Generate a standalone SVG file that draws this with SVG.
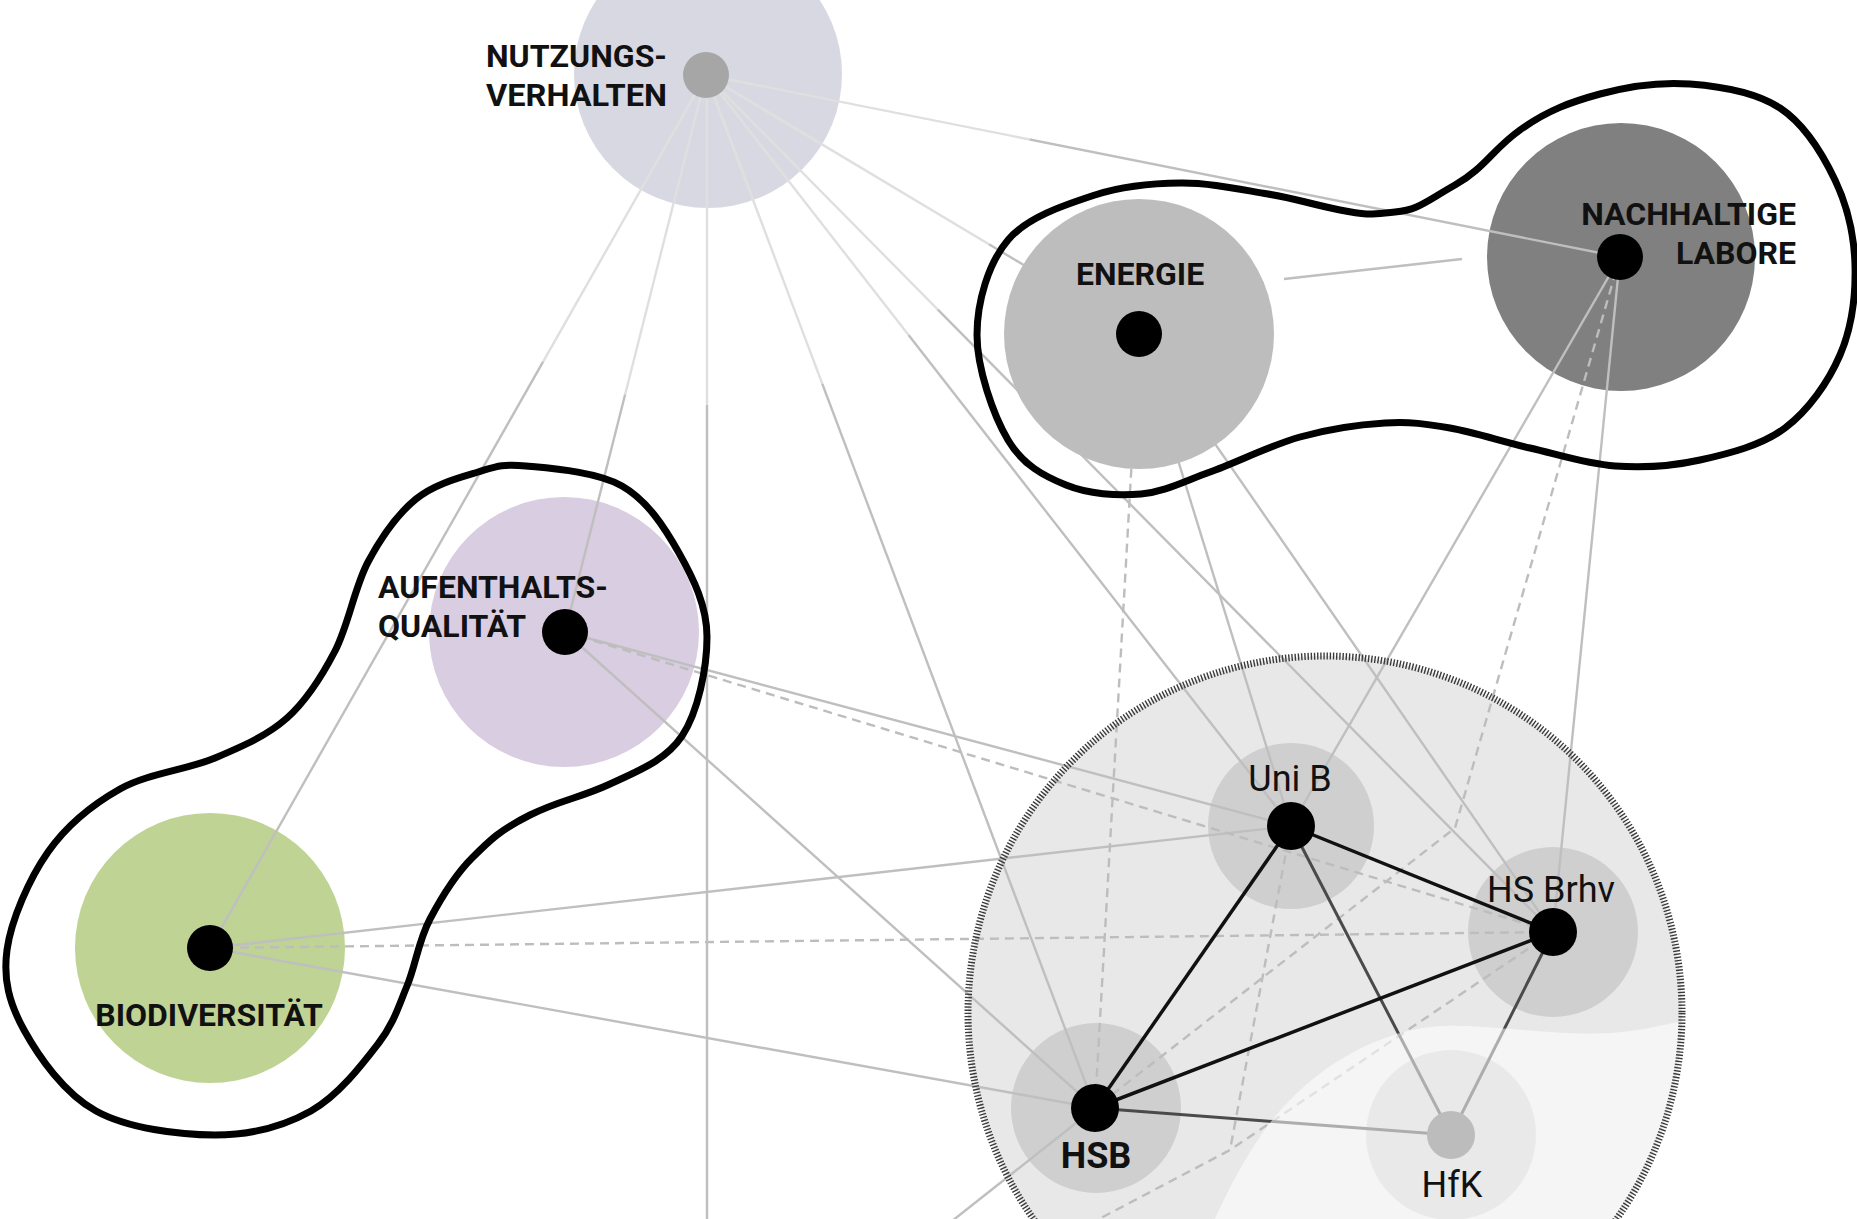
<svg xmlns="http://www.w3.org/2000/svg" width="1857" height="1219" viewBox="0 0 1857 1219">
<style>
.ln{stroke:#bfbfbf;stroke-width:2.4;fill:none}
.dl{stroke:#bdbdbd;stroke-width:2.4;stroke-dasharray:9 6;fill:none}
.bk{stroke:#111;stroke-width:3.5;fill:none}
.dk{stroke:#4a4a4a;stroke-width:3;fill:none}
.blob{fill:none;stroke:#000;stroke-width:7;stroke-linejoin:round}
.dot{fill:#000}
.halo{fill:#cfcfcf}
.lbl{font-family:Roboto,'Liberation Sans',sans-serif;font-weight:700;font-size:32px;fill:#111}
.ilbl{font-family:Roboto,'Liberation Sans',sans-serif;font-size:36px;fill:#111}
.ilbl.b{font-weight:700}
</style>
<defs>
<clipPath id="bigclip"><circle cx="1325" cy="1013" r="354"/></clipPath>
</defs>
<rect width="1857" height="1219" fill="#fff"/>

<g id="cluster">
<circle cx="1325" cy="1013" r="357" fill="#e8e8e8"/>
</g>

<g id="node-circles">
<circle id="c-nutzung" cx="708" cy="74" r="134" fill="#b1b1c5"/>
<circle id="c-labore" cx="1621" cy="257" r="134" fill="#808080"/>
<circle id="c-aufenthalt" cx="564" cy="632" r="135" fill="#d9cde1"/>
<circle id="c-bio" cx="210" cy="948" r="135" fill="#bfd394"/>
<circle id="h-unib" class="halo" cx="1291" cy="826" r="83"/>
<circle id="h-hsbrhv" class="halo" cx="1553" cy="932" r="85"/>
<circle id="h-hsb" class="halo" cx="1096" cy="1108" r="85"/>
<circle id="h-hfk" class="halo" cx="1451" cy="1135" r="85"/>
</g>

<g id="connectors">
<line class="ln" x1="706" y1="75" x2="210" y2="948"/>
<line class="ln" x1="706" y1="75" x2="565" y2="632"/>
<line class="ln" x1="707" y1="75" x2="707" y2="1219"/>
<line class="ln" x1="706" y1="75" x2="1095" y2="1108"/>
<line class="ln" x1="706" y1="75" x2="1291" y2="826"/>
<line class="ln" x1="706" y1="75" x2="1553" y2="932"/>
<line class="ln" x1="706" y1="75" x2="1139" y2="334"/>
<line class="ln" x1="706" y1="75" x2="1620" y2="257"/>
<line class="ln" x1="565" y1="632" x2="1291" y2="826"/>
<line class="ln" x1="565" y1="632" x2="1095" y2="1108"/>
<line class="ln" x1="210" y1="948" x2="1291" y2="826"/>
<line class="ln" x1="210" y1="948" x2="1095" y2="1108"/>
<line class="ln" x1="1139" y1="334" x2="1291" y2="826"/>
<line class="ln" x1="1139" y1="334" x2="1553" y2="932"/>
<line class="ln" x1="1620" y1="257" x2="1291" y2="826"/>
<line class="ln" x1="1620" y1="257" x2="1553" y2="932"/>
<line class="ln" x1="1284" y1="279" x2="1462" y2="259"/>
<line class="ln" x1="1095" y1="1108" x2="928" y2="1240"/>
<line class="dl" x1="565" y1="632" x2="1553" y2="932"/>
<line class="dl" x1="210" y1="948" x2="1553" y2="932"/>
<line class="dl" x1="1139" y1="334" x2="1095" y2="1108"/>
<polyline class="dl" points="1620,257 1455,828 1095,1108"/>
<line class="dl" x1="1291" y1="826" x2="1230" y2="1150"/>
<polyline class="dl" points="1553,932 1230,1150 1080,1229"/>
<line class="dk" x1="1291" y1="826" x2="1451" y2="1135"/>
<line class="dk" x1="1553" y1="932" x2="1451" y2="1135"/>
<line class="dk" x1="1095" y1="1108" x2="1451" y2="1135"/>
<line class="bk" x1="1291" y1="826" x2="1095" y2="1108"/>
<line class="bk" x1="1291" y1="826" x2="1553" y2="932"/>
<line class="bk" x1="1095" y1="1108" x2="1553" y2="932"/>
</g>

<g id="overlays">
<circle cx="706" cy="75" r="330" fill="#fff" fill-opacity="0.5"/>
<path clip-path="url(#bigclip)" fill="#fff" fill-opacity="0.55" d="M 1205 1240 C 1230 1185 1255 1135 1290 1100 S 1360 1045 1400 1033 S 1470 1026 1550 1032 S 1650 1026 1700 1018 L 1700 1240 Z"/>
<circle cx="1325" cy="1013" r="357" fill="none" stroke="#3a3a3a" stroke-width="7" stroke-dasharray="1.4 1.8"/>
</g>

<g id="energie">
<circle cx="1139" cy="334" r="135" fill="#bdbdbd"/>
<circle class="dot" cx="1139" cy="334" r="23"/>
<text class="lbl" x="1140" y="285" text-anchor="middle">ENERGIE</text>
</g>

<g id="blobs">
<path class="blob" d="M 977 335 C 977 301.7 988.3 263.3 1008 240 S 1066.2 204.5 1095 195 S 1152.2 183.2 1181 183 S 1239 189.2 1268 194 S 1310 204 1340 210 S 1372 214 1395 212 S 1425 202 1455 185 S 1492 150 1520 130 S 1571.7 101.7 1600 94 S 1660 81.7 1690 84 S 1755.8 92 1780 108 S 1822.5 153.8 1835 180 S 1854.2 235.8 1855 265 S 1851.7 327.8 1840 355 S 1808.3 410.5 1785 428 S 1728.3 453.7 1700 460 S 1643.3 468 1615 466 S 1557.5 454.3 1530 448 S 1474.2 432.2 1450 428 S 1410 421.5 1385 423 S 1329.2 428.8 1300 437 S 1236.5 462.5 1210 472 S 1165 491.8 1141 494 S 1088.2 494 1066 485 S 1022.8 465 1008 440 S 977 368.3 977 335 Z"/>
<path class="blob" d="M 526 466 C 550 468.3 596.5 471.5 622 486 S 664.8 527.8 679 553 S 707 605.8 707 637 S 698 712 682 736 S 640 770 610 784 S 560 800 530 815 S 490 840 472 858 S 441.8 896.7 430 919 S 415.7 965.2 407 986 S 394 1023.2 378 1044 S 338.2 1095.8 311 1111 S 250.8 1135 215 1135 S 127.8 1128.5 96 1111 S 38.8 1056.8 24 1030 S 3 979.7 7 950 S 29.2 878.8 48 852 S 92.2 804.7 120 789 S 187.2 769.8 215 758 S 267 735.8 287 718 S 321.5 677 335 651 S 354.5 587.3 368 562 S 397.7 514 416 499 S 459.7 477.5 478 472 S 502 463.7 526 466 Z"/>
</g>

<g id="nutzungsverhalten">
<circle cx="706" cy="75" r="23" fill="#a6a6a6"/>
<text class="lbl" x="486" y="67" textLength="181" lengthAdjust="spacingAndGlyphs">NUTZUNGS-</text>
<text class="lbl" x="486" y="106" textLength="181" lengthAdjust="spacingAndGlyphs">VERHALTEN</text>
</g>
<g id="nachhaltige-labore">
<circle class="dot" cx="1620" cy="257" r="23"/>
<text class="lbl" x="1796" y="225" text-anchor="end">NACHHALTIGE</text>
<text class="lbl" x="1796" y="264" text-anchor="end">LABORE</text>
</g>
<g id="aufenthaltsqualitaet">
<circle class="dot" cx="565" cy="632" r="23"/>
<text class="lbl" x="378" y="598">AUFENTHALTS-</text>
<text class="lbl" x="378" y="637">QUALITÄT</text>
</g>
<g id="biodiversitaet">
<circle class="dot" cx="210" cy="948" r="23"/>
<text class="lbl" x="209" y="1026" text-anchor="middle">BIODIVERSITÄT</text>
</g>
<g id="unib">
<circle class="dot" cx="1291" cy="826" r="24"/>
<text class="ilbl" x="1290" y="791" text-anchor="middle">Uni B</text>
</g>
<g id="hsbrhv">
<circle class="dot" cx="1553" cy="932" r="24"/>
<text class="ilbl" x="1551" y="902" text-anchor="middle">HS Brhv</text>
</g>
<g id="hsb">
<circle class="dot" cx="1095" cy="1108" r="24"/>
<text class="ilbl b" x="1096" y="1168" text-anchor="middle">HSB</text>
</g>
<g id="hfk">
<circle cx="1451" cy="1135" r="24" fill="#bcbcbc"/>
<text class="ilbl" x="1452" y="1197" text-anchor="middle">HfK</text>
</g>
</svg>
